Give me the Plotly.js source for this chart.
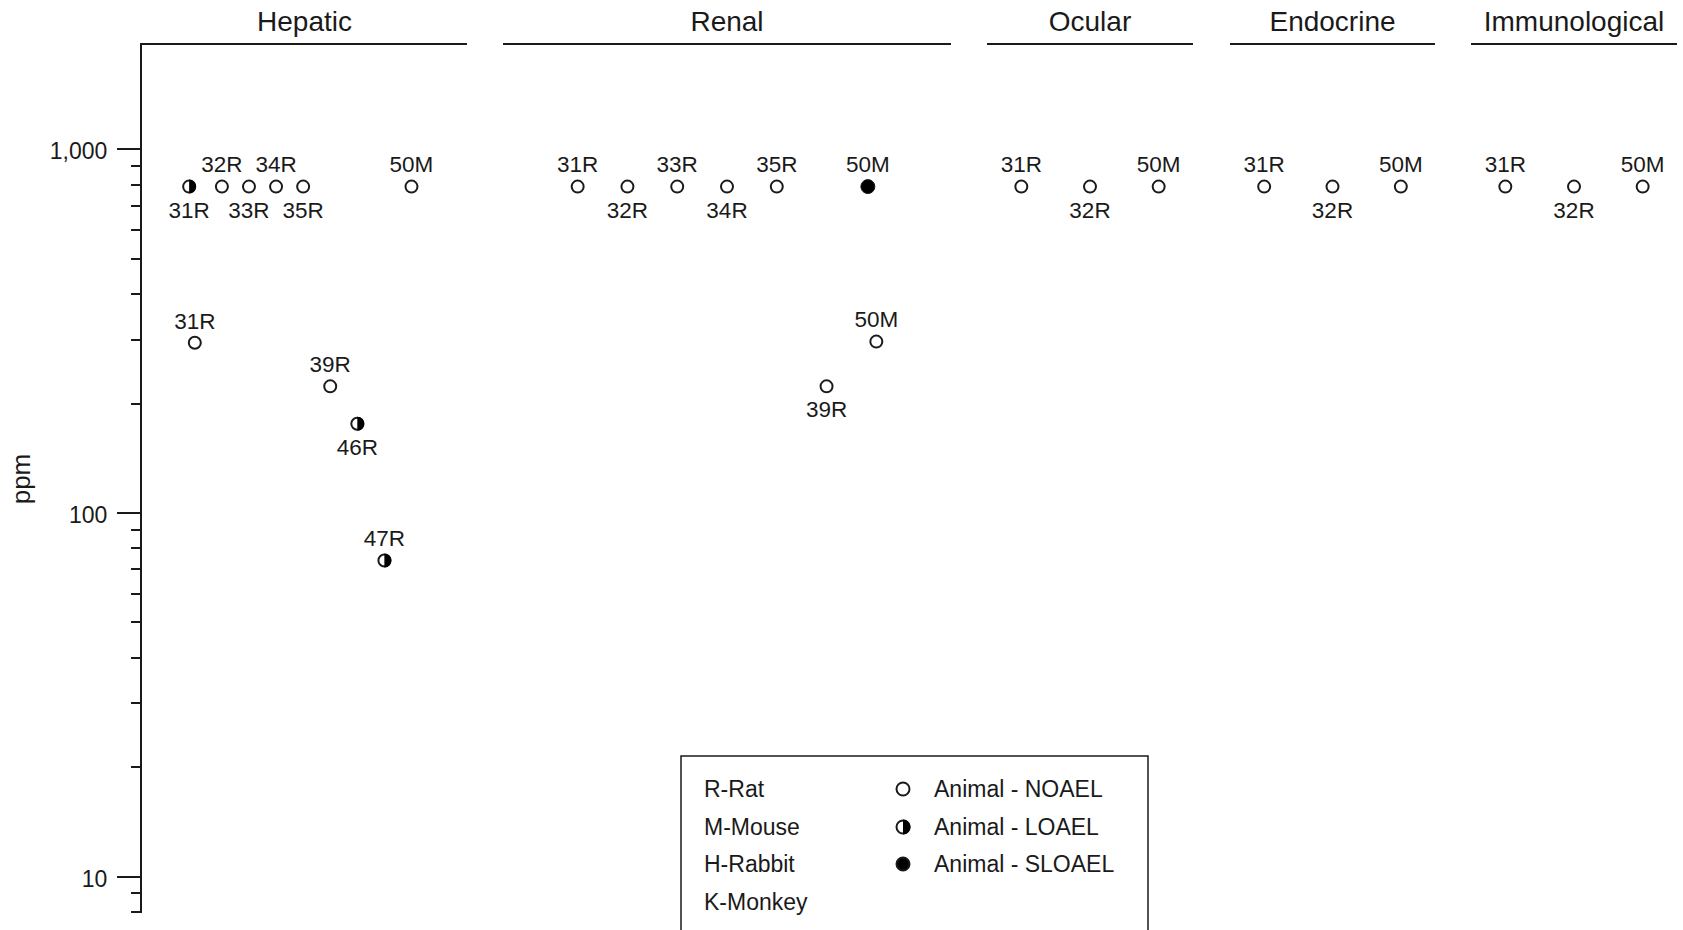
<!DOCTYPE html>
<html><head><meta charset="utf-8">
<script src="https://cdn.plot.ly/plotly-3.0.1.min.js"></script>
<style>html,body{margin:0;padding:0;background:#fff;overflow:hidden}#chart{width:1683px;height:930px}</style>
</head><body><div id="chart"></div>
<script>
// ---------------- data ----------------
const panels = ['Hepatic', 'Renal', 'Ocular', 'Endocrine', 'Immunological'];
const ptPanel = [0,0,0,0,0,0,0,0,0,0, 1,1,1,1,1,1,1,1, 2,2,2, 3,3,3, 4,4,4];
const ptLabel = ['31R','32R','33R','34R','35R','50M','31R','39R','46R','47R',
                 '31R','32R','33R','34R','35R','50M','39R','50M',
                 '31R','32R','50M', '31R','32R','50M', '31R','32R','50M'];
const ptSlot  = [1.79,3,4,5,6,10,2,7,8,9,
                 1,2,3,4,5,6.83,6,7,
                 0,1,2, 0,1,2, 0,1,2];
const ptPpm   = [790,790,790,790,790,790,294,223,176,74,
                 790,790,790,790,790,790,223,296,
                 790,790,790, 790,790,790, 790,790,790];
const ptEffect = ['LOAEL','NOAEL','NOAEL','NOAEL','NOAEL','NOAEL','NOAEL','NOAEL','LOAEL','LOAEL',
                  'NOAEL','NOAEL','NOAEL','NOAEL','NOAEL','SLOAEL','NOAEL','NOAEL',
                  'NOAEL','NOAEL','NOAEL', 'NOAEL','NOAEL','NOAEL', 'NOAEL','NOAEL','NOAEL'];
const ptLabelSide = ['bottom','top','bottom','top','bottom','top','top','top','bottom','top',
                     'top','bottom','top','bottom','top','top','bottom','top',
                     'top','bottom','top', 'top','bottom','top', 'top','bottom','top'];
const yTickVals = [10, 100, 1000];
const yTickText = ['10', '100', '1,000'];
const yMinorVals = [8, 9, 20, 30, 40, 50, 60, 70, 80, 90, 200, 300, 400, 500, 600, 700, 800, 900];
const speciesKey = ['R-Rat', 'M-Mouse', 'H-Rabbit', 'K-Monkey'];
const effectKey = ['Animal - NOAEL', 'Animal - LOAEL', 'Animal - SLOAEL'];

// ---------------- layout constants ----------------
const W = 1683, H = 930;
const M = {l: 142, r: 6, t: 45, b: 17};
const PW = W - M.l - M.r, PH = H - M.t - M.b;
const FONT = 'Liberation Sans, Arial, Helvetica, sans-serif';
const INK = '#1a1a1a';
const panelPx = [[142, 467], [503, 951], [987, 1193], [1230, 1435], [1471, 1677]];
const panelRange = [[0.05, 12.05], [-0.5, 8.5], [-0.5, 2.5], [-0.5, 2.5], [-0.5, 2.5]];
const px2fx = p => (p - M.l) / PW;
const py2fy = p => (H - M.b - p) / PH;

const axId = i => (i === 0 ? 'x' : 'x' + (i + 1));
const axKey = i => (i === 0 ? 'xaxis' : 'xaxis' + (i + 1));

const traces = [];
const shapes = [];
const effects = ['NOAEL', 'LOAEL', 'SLOAEL'];
const markerStyle = {
  NOAEL:  {symbol: 'circle', size: 12, color: '#ffffff', line: {color: INK, width: 2}},
  LOAEL:  {symbol: 'circle', size: 12, color: '#ffffff', line: {color: INK, width: 2}},
  SLOAEL: {symbol: 'circle', size: 14, color: '#000000', line: {color: INK, width: 1}}
};
// invisible spacer marker sizes that set the label offset above / below a point
const labelGap = {top: 12, bottom: 21};
// right-half disc (pixel coords relative to anchor), drawn with Beziers
const halfPath = r => {
  const k = 0.5523 * r;
  return `M 0 ${-r} C ${k} ${-r} ${r} ${-k} ${r} 0 C ${r} ${k} ${k} ${r} 0 ${r} Z`;
};

panels.forEach((p, pi) => {
  effects.forEach(ef => {
    const idx = ptPanel.map((v, i) => i).filter(i => ptPanel[i] === pi && ptEffect[i] === ef);
    if (!idx.length) return;
    traces.push({
      type: 'scatter', mode: 'markers',
      xaxis: axId(pi), yaxis: 'y',
      x: idx.map(i => ptSlot[i]),
      y: idx.map(i => ptPpm[i]),
      marker: markerStyle[ef],
      cliponaxis: false, showlegend: false, hoverinfo: 'skip'
    });
    if (ef === 'LOAEL') {
      idx.forEach(i => shapes.push({
        type: 'path', layer: 'above',
        xref: axId(pi), yref: 'y',
        xsizemode: 'pixel', ysizemode: 'pixel',
        xanchor: ptSlot[i], yanchor: ptPpm[i],
        path: halfPath(7), fillcolor: '#000', line: {width: 0}
      }));
    }
  });
  ['top', 'bottom'].forEach(side => {
    const idx = ptPanel.map((v, i) => i).filter(i => ptPanel[i] === pi && ptLabelSide[i] === side);
    if (!idx.length) return;
    traces.push({
      type: 'scatter', mode: 'markers+text',
      xaxis: axId(pi), yaxis: 'y',
      x: idx.map(i => ptSlot[i]),
      y: idx.map(i => ptPpm[i]),
      text: idx.map(i => ptLabel[i]),
      textposition: side + ' center',
      textfont: {family: FONT, size: 22.5, color: INK},
      marker: {size: labelGap[side], color: 'rgba(0,0,0,0)', line: {width: 0}},
      cliponaxis: false, showlegend: false, hoverinfo: 'skip'
    });
  });
});

const layout = {
  width: W, height: H,
  margin: M,
  paper_bgcolor: '#fff', plot_bgcolor: '#fff',
  font: {family: FONT, color: INK},
  showlegend: false,
  yaxis: {
    type: 'log', range: [0.9, 3.287], domain: [0, 1], anchor: 'x',
    showline: true, linecolor: INK, linewidth: 2,
    ticks: 'outside', ticklen: 23, tickwidth: 2, tickcolor: INK,
    tickmode: 'array', tickvals: yTickVals, ticktext: yTickText,
    tickfont: {family: FONT, size: 23, color: INK},
    ticklabelstandoff: 5, ticklabelshift: 2,
    minor: {tickmode: 'array', tickvals: yMinorVals, ticks: 'outside', ticklen: 9, tickwidth: 2, tickcolor: INK, showgrid: false},
    showgrid: false, zeroline: false, automargin: false,
    title: {text: 'ppm', font: {family: FONT, size: 26, color: INK}, standoff: 12}
  },
  shapes: shapes,
  annotations: []
};

panels.forEach((p, pi) => {
  layout[axKey(pi)] = {
    domain: [px2fx(panelPx[pi][0]), px2fx(panelPx[pi][1])],
    range: panelRange[pi], anchor: 'y', side: 'top',
    showline: true, linecolor: INK, linewidth: 2,
    ticks: '', showticklabels: false, showgrid: false, zeroline: false,
    automargin: false, fixedrange: true,
    title: {text: p, font: {family: FONT, size: 28, color: INK}, standoff: 3}
  };
});

// ---------------- key box ----------------
const box = {x0: 681, x1: 1148, y0: 756, y1: 990};
shapes.push({type: 'rect', xref: 'paper', yref: 'paper', layer: 'above',
  x0: px2fx(box.x0), x1: px2fx(box.x1), y0: py2fy(box.y1), y1: py2fy(box.y0),
  line: {color: INK, width: 1.5}, fillcolor: 'rgba(0,0,0,0)'});
const rowY = [789, 827, 864, 902];
speciesKey.forEach((s, i) => layout.annotations.push({
  xref: 'paper', yref: 'paper', x: px2fx(702), y: py2fy(rowY[i]),
  xanchor: 'left', yanchor: 'middle', showarrow: false, text: s,
  font: {family: FONT, size: 23, color: INK}
}));
effectKey.forEach((s, i) => layout.annotations.push({
  xref: 'paper', yref: 'paper', x: px2fx(932), y: py2fy(rowY[i]),
  xanchor: 'left', yanchor: 'middle', showarrow: false, text: s,
  font: {family: FONT, size: 23, color: INK}
}));
const keySymX = px2fx(903);
effects.forEach((ef, i) => {
  const base = {xref: 'paper', yref: 'paper', xsizemode: 'pixel', ysizemode: 'pixel',
    xanchor: keySymX, yanchor: py2fy(rowY[i]), layer: 'above'};
  shapes.push(Object.assign({}, base, {type: 'circle', x0: -6.5, x1: 6.5, y0: -6.5, y1: 6.5,
    fillcolor: ef === 'SLOAEL' ? '#000' : '#fff', line: {color: INK, width: 2}}));
  if (ef === 'LOAEL') shapes.push(Object.assign({}, base, {type: 'path', path: halfPath(7.5),
    fillcolor: '#000', line: {width: 0}}));
});

Plotly.newPlot('chart', traces, layout, {staticPlot: true, displayModeBar: false});
</script>
</body></html>
